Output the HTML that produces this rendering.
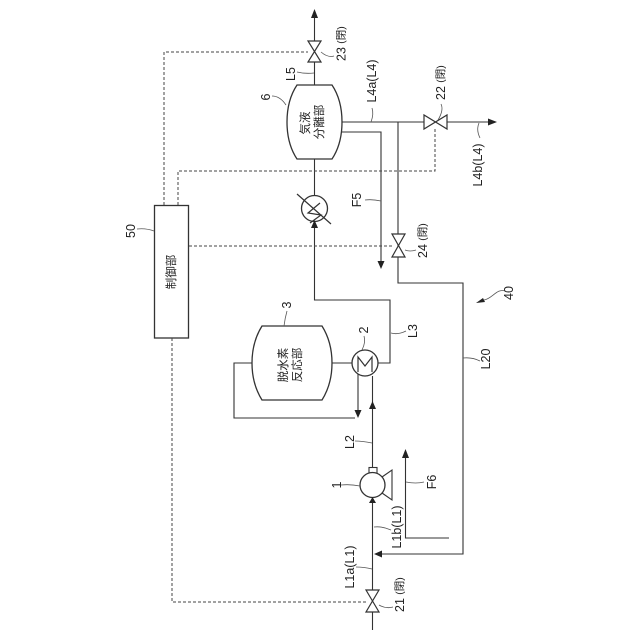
<!DOCTYPE html>
<html>
<head>
<meta charset="utf-8">
<style>
html,body{margin:0;padding:0;background:#fff;}
svg{display:block;}
text{font-family:"Liberation Sans","Noto Sans CJK JP",sans-serif;fill:#222;text-anchor:middle;dominant-baseline:central;}
.l{font-size:12.5px;}
.c{font-size:11.500px;}
.s{font-size:10.500px;}
</style>
</head>
<body>
<svg width="640" height="640" viewBox="0 0 640 640" xmlns="http://www.w3.org/2000/svg">
<rect width="640" height="640" fill="#fff"/>
<g fill="none" stroke="#333" stroke-width="1.1">
  <!-- main lines -->
  <path d="M314.5 85V12"/>
  <path d="M314.5 159V195"/>
  <path d="M314.5 221V300H390V363H378"/>
  <path d="M342 122H495"/>
  <path d="M342 132H381V265"/>
  <path d="M398 122V283H463V554H378"/>
  <path d="M405.5 455V538H449"/>
  <path d="M372.5 630V497"/>
  <path d="M372.5 473V376"/>
  <path d="M332 363H352"/>
  <path d="M252 363H234V418H355"/>
  <path d="M358 373V415"/>
  <!-- vessels -->
  <path d="M297 85H332Q342 100 342 122T332 159H297Q287 144 287 122T297 85Z" fill="#fff" stroke-width="1.3"/>
  <path d="M262 326H322Q332 342 332 363T322 400H262Q252 384 252 363T262 326Z" fill="#fff" stroke-width="1.3"/>
  <!-- control box -->
  <rect x="154.5" y="205.5" width="34" height="132.5" fill="#fff" stroke-width="1.3"/>
  <!-- heat exchangers -->
  <circle cx="314.5" cy="208.5" r="13" fill="#fff" stroke-width="1.3"/>
  <path d="M297 194L331 224M320 203L308 213L321 215L310 223" stroke-width="1.2"/>
  <circle cx="365" cy="363" r="13" fill="#fff" stroke-width="1.3"/>
  <path d="M358 372V357L365 366L372 357V372" stroke-width="1.2"/>
  <!-- pump -->
  <rect x="369" y="467.5" width="8" height="6" fill="#fff"/>
  <circle cx="372.5" cy="485" r="12.5" fill="#fff" stroke-width="1.3"/>
  <path d="M382 477L392 470V500L382 493"/>
  <!-- valves -->
  <path d="M308 41H321L308 62H321Z" fill="#fff" stroke-width="1.2"/>
  <path d="M424 115V129L447 115V129Z" fill="#fff" stroke-width="1.2"/>
  <path d="M392 234H405L392 257H405Z" fill="#fff" stroke-width="1.2"/>
  <path d="M366 590H379L366 612H379Z" fill="#fff" stroke-width="1.2"/>
</g>
<!-- dashed control lines -->
<g fill="none" stroke="#444" stroke-width="1" stroke-dasharray="3 2">
  <path d="M164 205V52H308"/>
  <path d="M178 205V171H435V129"/>
  <path d="M189 246H392"/>
  <path d="M172 338V602H366"/>
</g>
<!-- arrowheads -->
<g fill="#222" stroke="none">
  <path d="M314.5 9L311 18H318Z"/>
  <path d="M497 122L488 118.500V125.500Z"/>
  <path d="M381 269L377.500 261H384.500Z"/>
  <path d="M314.500 220L311 228H318Z"/>
  <path d="M358 418L354.500 410H361.500Z"/>
  <path d="M372.500 401L369 409H376Z"/>
  <path d="M372.500 497L369 503H376Z"/>
  <path d="M374 554L382 550.500V557.500Z"/>
  <path d="M405.500 449L402 458H409Z"/>
  <path d="M476 303L483 298L485 302Z"/>
</g>
<!-- leaders -->
<g fill="none" stroke="#555" stroke-width="0.8">
  <path d="M321 52Q328 58 334 56"/>
  <path d="M297 72Q305 74 314 73"/>
  <path d="M272 96Q280 96 286 105"/>
  <path d="M372 108Q374 114 371 122"/>
  <path d="M441 104Q444 110 438 120"/>
  <path d="M479 123Q476 130 480 138"/>
  <path d="M365 200Q372 199 381 201"/>
  <path d="M405 250Q410 252 416 250"/>
  <path d="M137 229Q146 228 154 231"/>
  <path d="M287 311Q285 318 284 326"/>
  <path d="M364 336Q366 342 362 350"/>
  <path d="M391 333Q398 335 406 331"/>
  <path d="M463 358Q472 357 480 361"/>
  <path d="M341 485Q350 484 360 486"/>
  <path d="M355 441Q362 441 372 443"/>
  <path d="M374 527Q382 526 391 530"/>
  <path d="M356 567Q364 567 372 569"/>
  <path d="M379 605Q386 609 393 607"/>
  <path d="M406 482Q416 484 424 482"/>
  <path d="M505 291C497 288 492 299 484 300"/>
</g>
<!-- labels -->
<text class="l" transform="translate(341.500,54) rotate(-90)">23</text>
<text class="s" transform="translate(341.500,35) rotate(-90)">(閉)</text>
<text class="l" transform="translate(291,74) rotate(-90)">L5</text>
<text class="l" transform="translate(266,97) rotate(-90)">6</text>
<text class="c" transform="translate(306,123) rotate(-90)">気液</text>
<text class="c" transform="translate(320,122) rotate(-90)">分離部</text>
<text class="l" transform="translate(372,81) rotate(-90)">L4a(L4)</text>
<text class="l" transform="translate(441,93) rotate(-90)">22</text>
<text class="s" transform="translate(441,74) rotate(-90)">(閉)</text>
<text class="l" transform="translate(478,165) rotate(-90)">L4b(L4)</text>
<text class="l" transform="translate(357,200) rotate(-90)">F5</text>
<text class="l" transform="translate(423,251) rotate(-90)">24</text>
<text class="s" transform="translate(423,232) rotate(-90)">(閉)</text>
<text class="l" transform="translate(131,231) rotate(-90)">50</text>
<text class="c" transform="translate(172,272) rotate(-90)">制御部</text>
<text class="l" transform="translate(287,305) rotate(-90)">3</text>
<text class="c" transform="translate(284,365) rotate(-90)">脱水素</text>
<text class="c" transform="translate(298,365) rotate(-90)">反応部</text>
<text class="l" transform="translate(364,330) rotate(-90)">2</text>
<text class="l" transform="translate(413,331) rotate(-90)">L3</text>
<text class="l" transform="translate(486,359) rotate(-90)">L20</text>
<text class="l" transform="translate(509,293) rotate(-90)">40</text>
<text class="l" transform="translate(432,482) rotate(-90)">F6</text>
<text class="l" transform="translate(337,485) rotate(-90)">1</text>
<text class="l" transform="translate(350,442) rotate(-90)">L2</text>
<text class="l" transform="translate(397,527) rotate(-90)">L1b(L1)</text>
<text class="l" transform="translate(350,567) rotate(-90)">L1a(L1)</text>
<text class="l" transform="translate(400,605) rotate(-90)">21</text>
<text class="s" transform="translate(400,586) rotate(-90)">(閉)</text>
</svg>
</body>
</html>
